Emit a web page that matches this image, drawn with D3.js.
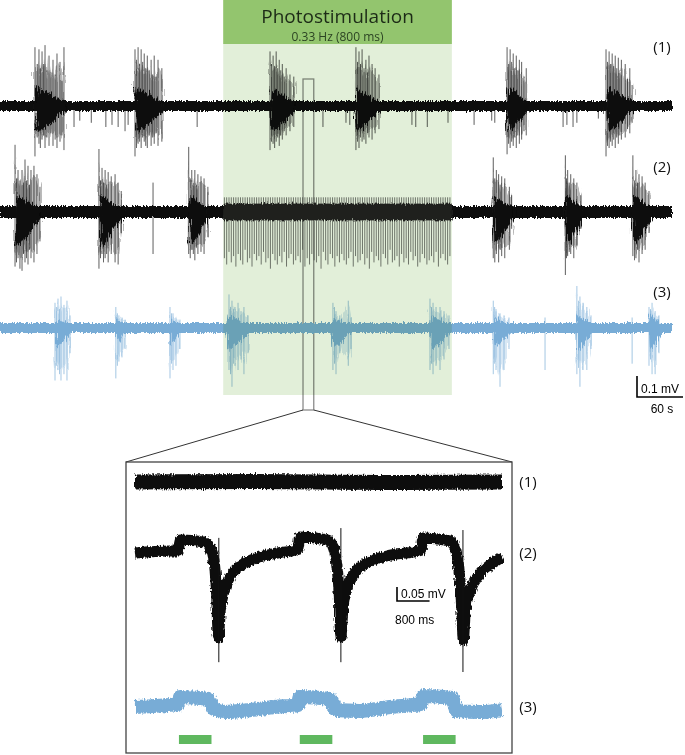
<!DOCTYPE html>
<html>
<head>
<meta charset="utf-8">
<script src="https://cdn.jsdelivr.net/npm/d3@7"></script>
<style>
  body { margin: 0; background: #fff; }
  svg { display: block; font-family: "Open Sans", "Noto Sans", sans-serif; }
  .bar { font-family: "Liberation Sans", Arial, sans-serif; font-size: 12px; }
</style>
</head>
<body>
<svg width="685" height="755"></svg>
<script>
// ---- top panel: whole recording, time in s, amplitude in mV ----
const recordLength = 876;
const stimWindow = [291, 589];
const stimRate = 3;            // s between flashes (0.33 Hz)
const zoomWindow = [395, 409];

// bursts: onset s, duration s, envelope up mV, envelope down mV
const trace1Bursts = [[46, 39, 0.09, 0.12], [176, 36, 0.09, 0.12], [352, 33, 0.08, 0.11], [463, 32, 0.08, 0.11], [661, 27, 0.09, 0.12], [790, 35, 0.09, 0.12]];
// spikes: time s, top mV, bottom mV
const trace1Spikes = [
  [45.6, 0.28, -0.24], [48.5, 0.2, -0.15], [50.8, 0.27, -0.18], [52.6, 0.18, -0.2], [54.8, 0.26, -0.16], [56.9, 0.2, -0.14], [58.7, 0.29, -0.2], [61.2, 0.17, -0.15], [63.9, 0.24, -0.19], [66.4, 0.16, -0.13], [69.1, 0.22, -0.19], [71.9, 0.15, -0.16], [74.3, 0.25, -0.2], [78.2, 0.21, -0.17], [80.8, 0.12, -0.14], [83.4, 0.28, -0.21],
  [96.5, 0, -0.1], [104, 0, -0.07], [119, 0, -0.08], [138, 0, -0.1], [146, 0, -0.09], [154, 0, -0.1], [163, 0, -0.12], [167, 0, -0.09],
  [176, 0.27, -0.24], [178, 0.22, -0.2], [180, 0.28, -0.18], [182, 0.2, -0.17], [184, 0.27, -0.2], [186, 0.21, -0.15], [188, 0.25, -0.17], [190, 0.18, -0.19], [192, 0.24, -0.2], [194.5, 0.17, -0.14], [197, 0.22, -0.19], [199, 0.15, -0.15], [201, 0.24, -0.18], [203.5, 0.14, -0.13], [206, 0.22, -0.19], [211, 0.18, -0.17],
  [257, 0, -0.1],
  [352, 0.26, -0.21], [354, 0.2, -0.17], [356, 0.24, -0.18], [358, 0.19, -0.2], [360, 0.26, -0.17], [362, 0.18, -0.15], [364, 0.22, -0.19], [366, 0.17, -0.14], [368, 0.2, -0.16], [370.5, 0.14, -0.12], [373, 0.18, -0.14], [378, 0.15, -0.12], [383, 0.14, -0.1],
  [421, 0, -0.1], [451, 0, -0.08], [456, 0, -0.09],
  [464, 0.28, -0.21], [466, 0.21, -0.17], [468, 0.26, -0.2], [470, 0.2, -0.15], [472, 0.27, -0.17], [474.5, 0.18, -0.16], [477, 0.22, -0.18], [479, 0.16, -0.13], [481, 0.24, -0.15], [485, 0.2, -0.16], [489, 0.18, -0.13], [494, 0.15, -0.11],
  [537, 0, -0.09], [542, 0, -0.1], [557, 0, -0.1], [584, 0, -0.08],
  [618, 0, -0.09], [641, 0, -0.07], [645, 0, -0.08],
  [661, 0.28, -0.23], [663, 0.2, -0.18], [665, 0.27, -0.2], [667, 0.21, -0.17], [669, 0.25, -0.19], [671, 0.18, -0.15], [673, 0.24, -0.2], [675, 0.17, -0.14], [677, 0.22, -0.18], [680, 0.21, -0.16], [683, 0.14, -0.12], [686, 0.18, -0.14],
  [734, 0, -0.1], [739, 0, -0.09], [747, 0, -0.1], [752, 0, -0.08], [780, 0, -0.06],
  [790, 0.27, -0.24], [792, 0.21, -0.19], [794, 0.26, -0.2], [796, 0.2, -0.17], [798, 0.25, -0.19], [800, 0.19, -0.16], [802, 0.24, -0.2], [804, 0.18, -0.15], [806, 0.23, -0.18], [808, 0.16, -0.14], [810, 0.22, -0.16], [815, 0.2, -0.15], [818, 0.13, -0.11], [821, 0.18, -0.13], [824, 0.1, -0.08]
];

const trace2Bursts = [[19.6, 33, 0.08, 0.16], [129, 30, 0.08, 0.16], [246, 26, 0.08, 0.15], [643, 26, 0.08, 0.15], [737, 23, 0.08, 0.15], [825, 25, 0.08, 0.15]];
const trace2Spikes = [
  [19.6, 0.32, -0.26], [21.5, 0.16, -0.24], [23.5, 0.2, -0.22], [26, 0.15, -0.27], [28.7, 0.2, -0.28], [30.6, 0.14, -0.2], [32.6, 0.25, -0.24], [34.5, 0.15, -0.22], [36.5, 0.22, -0.25], [38.5, 0.13, -0.18], [40.4, 0.2, -0.22], [44.3, 0.22, -0.24], [48.2, 0.18, -0.2], [52.1, 0.12, -0.14],
  [129, 0.3, -0.27], [131, 0.15, -0.22], [133, 0.21, -0.2], [135, 0.14, -0.24], [137, 0.2, -0.22], [139, 0.13, -0.2], [141, 0.19, -0.24], [145, 0.17, -0.2], [150, 0.18, -0.24], [154, 0.14, -0.25], [158, 0.1, -0.1],
  [199.5, 0.14, -0.2],
  [246, 0.31, -0.2], [248, 0.16, -0.22], [250, 0.2, -0.18], [252, 0.14, -0.2], [254, 0.2, -0.23], [256, 0.13, -0.17], [258, 0.18, -0.2], [262, 0.17, -0.19], [266, 0.16, -0.2], [271, 0.12, -0.12],
  [643, 0.26, -0.22], [645, 0.16, -0.24], [647, 0.2, -0.2], [650, 0.18, -0.24], [652, 0.13, -0.18], [654, 0.17, -0.21], [658, 0.16, -0.22], [664, 0.12, -0.18], [667, 0.08, -0.08],
  [737, 0.27, -0.3], [738.5, 0.16, -0.22], [740, 0.2, -0.21], [742, 0.14, -0.19], [744, 0.18, -0.2], [748, 0.16, -0.22], [752, 0.14, -0.16], [757, 0.08, -0.08],
  [825, 0.27, -0.21], [827, 0.15, -0.23], [829, 0.2, -0.22], [831, 0.14, -0.18], [833, 0.18, -0.24], [837, 0.17, -0.2], [841, 0.14, -0.18], [846, 0.1, -0.1]
];
// evoked responses of trace (2), one per flash, depth in mV
const trace2Evoked = [
  0.22, 0.25, 0.19, 0.24, 0.21, 0.26, 0.2, 0.23, 0.25, 0.18,
  0.24, 0.22, 0.26, 0.2, 0.23, 0.21, 0.25, 0.19, 0.24, 0.22,
  0.27, 0.2, 0.23, 0.25, 0.21, 0.24, 0.19, 0.26, 0.22, 0.2,
  0.25, 0.23, 0.21, 0.24, 0.18, 0.26, 0.22, 0.25, 0.2, 0.23,
  0.24, 0.21, 0.27, 0.19, 0.23, 0.25, 0.2, 0.22, 0.26, 0.21,
  0.24, 0.2, 0.23, 0.25, 0.22, 0.19, 0.26, 0.21, 0.24, 0.23,
  0.2, 0.25, 0.22, 0.27, 0.19, 0.24, 0.21, 0.23, 0.26, 0.2,
  0.22, 0.25, 0.18, 0.24, 0.23, 0.21, 0.26, 0.2, 0.24, 0.22,
  0.25, 0.19, 0.23, 0.21, 0.26, 0.24, 0.2, 0.22, 0.25, 0.23,
  0.21, 0.24, 0.19, 0.26, 0.22, 0.2, 0.23, 0.25, 0.21
];
const evokedUp = 0.07;

const trace3Bursts = [[71.7, 20, 0.05, 0.09], [151, 12, 0.045, 0.08], [221.6, 16, 0.045, 0.08], [296, 30, 0.06, 0.1], [433, 26, 0.05, 0.09], [560.5, 26, 0.06, 0.1], [643, 25, 0.05, 0.09], [751, 22, 0.06, 0.1], [846, 18, 0.07, 0.1]];
const trace3Spikes = [
  [71.7, 0.12, -0.25], [73.5, 0.1, -0.18], [75.6, 0.14, -0.2], [77.5, 0.09, -0.22], [79.5, 0.15, -0.25], [83.4, 0.11, -0.22], [87.3, 0.13, -0.25], [91.3, 0.06, -0.12],
  [151, 0.1, -0.24], [153, 0.07, -0.18], [155, 0.06, -0.16], [159, 0.05, -0.14], [163, 0.04, -0.1],
  [221.6, 0.1, -0.24], [223.5, 0.07, -0.17], [225.5, 0.07, -0.2], [229.4, 0.05, -0.18], [234.6, 0.04, -0.1],
  [298.5, 0.16, -0.2], [300.5, 0.1, -0.22], [302.4, 0.13, -0.28], [304.3, 0.09, -0.17], [306.3, 0.1, -0.18], [310.3, 0.12, -0.2], [314.2, 0.08, -0.15], [318, 0.1, -0.22], [323.3, 0.06, -0.12],
  [434, 0.12, -0.2], [436, 0.1, -0.17], [438, 0.08, -0.22], [443, 0.06, -0.12], [454, 0.13, -0.18], [457.6, 0.05, -0.1],
  [560.5, 0.14, -0.2], [562.5, 0.1, -0.17], [564.5, 0.12, -0.22], [568.4, 0.1, -0.18], [573.6, 0.1, -0.2], [578.8, 0.08, -0.15], [585.3, 0.06, -0.1],
  [643, 0.13, -0.22], [644.8, 0.1, -0.17], [646.6, 0.09, -0.2], [651.8, 0.07, -0.28], [657, 0.06, -0.2], [663.5, 0.05, -0.1],
  [710.5, 0.05, -0.2],
  [752, 0.2, -0.22], [754, 0.13, -0.19], [756, 0.15, -0.28], [760, 0.12, -0.2], [765, 0.1, -0.2], [770.4, 0.06, -0.1],
  [824, 0.05, -0.17],
  [846, 0.1, -0.18], [848, 0.09, -0.15], [850, 0.12, -0.22], [854, 0.08, -0.22], [859, 0.06, -0.12]
];

const traceLabels = ["(1)", "(2)", "(3)"];
const noiseLevels = [0.024, 0.028, 0.024];

// ---- inset: 9 s around the zoom box ----
const insetLength = 9.02;
const flashOnsets = [1.08, 4.05, 7.08];
const flashDuration = 0.8;
const inset1 = [[0, 0], [3, 0.002], [6, -0.002], [9.02, 0]];
const inset2 = [
  [0, 0], [0.86, 0.007], [1.06, 0.007], [1.11, 0.046], [1.72, 0.039], [1.84, 0.021], [1.94, -0.025], [2.0, -0.132], [2.05, -0.3],
  [2.1, -0.2], [2.2, -0.13], [2.35, -0.08], [2.6, -0.045], [2.95, -0.02], [3.5, 0.0], [4.0, 0.012],
  [4.05, 0.057], [4.74, 0.046], [4.86, 0.025], [4.96, -0.043], [5.02, -0.15], [5.06, -0.3],
  [5.11, -0.2], [5.22, -0.12], [5.4, -0.07], [5.7, -0.035], [6.2, -0.01], [7.03, 0.01],
  [7.08, 0.054], [7.74, 0.043], [7.86, 0.018], [7.96, -0.054], [8.02, -0.168], [8.07, -0.31],
  [8.12, -0.2], [8.25, -0.13], [8.45, -0.08], [8.75, -0.04], [9.02, -0.015]
];
const inset2Spikes = [[2.06, 0.054, -0.39], [5.06, 0.089, -0.39], [8.06, 0.082, -0.425]];
const inset3 = [
  [0, 0], [1.06, 0.011], [1.11, 0.036], [1.79, 0.029], [1.94, -0.007], [2.21, -0.018], [2.83, -0.011], [3.44, 0], [4.0, 0.007],
  [4.05, 0.036], [4.79, 0.029], [4.94, -0.011], [5.53, -0.014], [6.27, 0], [7.03, 0.011],
  [7.08, 0.039], [7.79, 0.032], [7.91, -0.014], [8.48, -0.018], [9.02, -0.011]
];

const svg = d3.select('svg');
const defs = svg.append('defs');
function roughFilter(id, freq, scale) {
  const f = defs.append('filter').attr('id', id)
    .attr('filterUnits', 'userSpaceOnUse')
    .attr('x', 0).attr('y', 0).attr('width', 685).attr('height', 755);
  f.append('feTurbulence').attr('type', 'fractalNoise')
    .attr('baseFrequency', freq).attr('numOctaves', 2).attr('seed', 4).attr('result', 'n');
  f.append('feDisplacementMap').attr('in', 'SourceGraphic').attr('in2', 'n')
    .attr('scale', scale).attr('xChannelSelector', 'R').attr('yChannelSelector', 'G');
}
roughFilter('rough', '0.9 0.2', 5);
roughFilter('spiky', '1.2 0.05', 12);

const x = d3.scaleLinear().domain([0, recordLength]).range([0, 672]);
const pxPerMv = 210;
const bases = [106, 212, 328];
const colors = ['#111', '#111', '#78acd6'];
const yFor = base => d3.scaleLinear().domain([-1, 1]).range([base + pxPerMv, base - pxPerMv]);

const traces = [
  { bursts: trace1Bursts, spikes: trace1Spikes },
  { bursts: trace2Bursts, spikes: trace2Spikes },
  { bursts: trace3Bursts, spikes: trace3Spikes }
];

const topG = svg.append('g');

// zoom box (under the green overlay)
topG.append('rect')
  .attr('x', x(zoomWindow[0])).attr('y', 79)
  .attr('width', x(zoomWindow[1]) - x(zoomWindow[0])).attr('height', 331)
  .attr('fill', 'none').attr('stroke', '#8c8c8c').attr('stroke-width', 1.3);

traces.forEach((tr, i) => {
  const y = yFor(bases[i]);
  const g = topG.append('g');
  const noise = noiseLevels[i];
  const area = d3.area().x(d => x(d)).y0(y(-noise)).y1(y(noise));

  // faint haze spanned by the spikes of each burst
  const haze = d3.area().x(d => x(d[0])).y0(d => y(d[2] * 0.8)).y1(d => y(d[1] * 0.8));
  g.append('g').attr('filter', 'url(#spiky)')
    .selectAll('path.haze').data(tr.bursts).join('path')
    .attr('class', 'haze')
    .attr('d', ([t, dur]) => haze(tr.spikes.filter(s => s[0] >= t - 1 && s[0] <= t + dur + 1 && s[1] > 0)))
    .attr('fill', colors[i]).attr('opacity', 0.28);

  g.append('path')
    .datum([0, recordLength])
    .attr('d', area)
    .attr('fill', colors[i])
    .attr('filter', 'url(#rough)');

  g.selectAll('line.spike').data(tr.spikes).join('line')
    .attr('class', 'spike')
    .attr('x1', d => x(d[0])).attr('x2', d => x(d[0]))
    .attr('y1', d => y(d[1])).attr('y2', d => y(d[2]))
    .attr('stroke', colors[i]).attr('stroke-width', 0.8).attr('opacity', 0.85);

  // dense part of each burst
  const env = d3.line().x(d => x(d[0])).y(d => y(d[1]));
  g.append('g').attr('filter', 'url(#spiky)')
    .selectAll('path.burst').data(tr.bursts).join('path')
    .attr('class', 'burst')
    .attr('d', ([t, dur, up, dn]) => env([
      [t, 0], [t + dur * 0.06, up], [t + dur * 0.3, up * 0.8], [t + dur * 0.7, up * 0.45], [t + dur, up * 0.2],
      [t + dur, -dn * 0.2], [t + dur * 0.7, -dn * 0.5], [t + dur * 0.3, -dn * 0.9], [t + dur * 0.06, -dn]
    ]) + 'Z')
    .attr('fill', colors[i]);

  if (i === 1) {
    g.selectAll('line.evoked').data(trace2Evoked).join('line')
      .attr('class', 'evoked')
      .attr('x1', (d, k) => x(stimWindow[0] + 1.5 + k * stimRate))
      .attr('x2', (d, k) => x(stimWindow[0] + 1.5 + k * stimRate))
      .attr('y1', y(evokedUp)).attr('y2', d => y(-d))
      .attr('stroke', '#444').attr('stroke-width', 0.7);
    g.append('rect')
      .attr('x', x(stimWindow[0])).attr('width', x(stimWindow[1]) - x(stimWindow[0]))
      .attr('y', y(0.04)).attr('height', y(-0.04) - y(0.04))
      .attr('fill', '#222').attr('filter', 'url(#rough)');
  }

  topG.append('text')
    .attr('x', 662).attr('y', [52, 172, 297][i])
    .attr('text-anchor', 'middle')
    .attr('font-size', 15).attr('fill', '#111')
    .text(traceLabels[i]);
});

// green overlay for the photostimulation period
topG.append('rect')
  .attr('x', x(stimWindow[0])).attr('y', 0)
  .attr('width', x(stimWindow[1]) - x(stimWindow[0])).attr('height', 395)
  .attr('fill', '#e2efd9')
  .style('mix-blend-mode', 'multiply');
topG.append('rect')
  .attr('x', x(stimWindow[0])).attr('y', 0)
  .attr('width', x(stimWindow[1]) - x(stimWindow[0])).attr('height', 44)
  .attr('fill', '#93c56e');
topG.append('text')
  .attr('x', (x(stimWindow[0]) + x(stimWindow[1])) / 2).attr('y', 23)
  .attr('text-anchor', 'middle').attr('font-size', 19).attr('fill', '#1d2b17')
  .text('Photostimulation');
topG.append('text')
  .attr('x', (x(stimWindow[0]) + x(stimWindow[1])) / 2).attr('y', 41)
  .attr('text-anchor', 'middle').attr('font-size', 12).attr('fill', '#2c4423')
  .text('0.33 Hz (800 ms)');

// top scale bar: 0.1 mV / 60 s
const sbX = 637, sbY = 397;
topG.append('path')
  .attr('d', `M${sbX},${sbY - 0.1 * pxPerMv}V${sbY}H${sbX + x(60) - x(0)}`)
  .attr('fill', 'none').attr('stroke', '#000').attr('stroke-width', 1.6);
topG.append('text').attr('class', 'bar').attr('x', sbX + 4).attr('y', sbY - 4)
  .text('0.1 mV');
topG.append('text').attr('class', 'bar').attr('x', sbX + (x(60) - x(0)) / 2 + 2).attr('y', 413)
  .attr('text-anchor', 'middle').text('60 s');

// ---- inset ----
const box = { x0: 126, y0: 462, x1: 512, y1: 753 };
svg.append('path')
  .attr('d', `M${x(zoomWindow[0])},410L${box.x0},${box.y0}M${x(zoomWindow[1])},410L${box.x1},${box.y0}`)
  .attr('stroke', '#333').attr('stroke-width', 1).attr('fill', 'none');
svg.append('rect')
  .attr('x', box.x0).attr('y', box.y0)
  .attr('width', box.x1 - box.x0).attr('height', box.y1 - box.y0)
  .attr('fill', 'none').attr('stroke', '#444').attr('stroke-width', 1.3);

const xi = d3.scaleLinear().domain([0, insetLength]).range([135, 502]);
const insetPxPerMv = 280;
const insetBases = [482, 553, 707];
const yIn = base => d3.scaleLinear().domain([-1, 1]).range([base + insetPxPerMv, base - insetPxPerMv]);
const insetData = [inset1, inset2, inset3];
const insetWidths = [15, 11, 14];
const insetColors = ['#111', '#111', '#78acd6'];
const ins = svg.append('g');

insetData.forEach((series, i) => {
  const y = yIn(insetBases[i]);
  const line = d3.line().x(d => xi(d[0])).y(d => y(d[1])).curve(d3.curveMonotoneX);
  ins.append('path')
    .datum(series)
    .attr('d', line)
    .attr('fill', 'none')
    .attr('stroke', insetColors[i])
    .attr('stroke-width', insetWidths[i])
    .attr('stroke-linecap', 'butt')
    .attr('filter', 'url(#rough)');
  ins.append('text')
    .attr('x', 528).attr('y', insetBases[i] + 5)
    .attr('text-anchor', 'middle').attr('font-size', 15).attr('fill', '#111')
    .text(traceLabels[i]);
});

{
  const y = yIn(insetBases[1]);
  ins.selectAll('line.ispk').data(inset2Spikes).join('line')
    .attr('class', 'ispk')
    .attr('x1', d => xi(d[0])).attr('x2', d => xi(d[0]))
    .attr('y1', d => y(d[1])).attr('y2', d => y(d[2]))
    .attr('stroke', '#111').attr('stroke-width', 1);
}

// light flashes
ins.selectAll('rect.flash').data(flashOnsets).join('rect')
  .attr('class', 'flash')
  .attr('x', d => xi(d)).attr('y', 735)
  .attr('width', xi(flashDuration) - xi(0)).attr('height', 9)
  .attr('fill', '#5fb85f');

// inset scale bar: 0.05 mV / 800 ms
const ibX = 397, ibY = 601;
ins.append('path')
  .attr('d', `M${ibX},${ibY - 0.05 * insetPxPerMv}V${ibY}H${ibX + xi(0.8) - xi(0)}`)
  .attr('fill', 'none').attr('stroke', '#000').attr('stroke-width', 1.6);
ins.append('text').attr('class', 'bar').attr('x', ibX + 4).attr('y', ibY - 3)
  .text('0.05 mV');
ins.append('text').attr('class', 'bar').attr('x', ibX - 2).attr('y', 624)
  .text('800 ms');
</script>
</body>
</html>
